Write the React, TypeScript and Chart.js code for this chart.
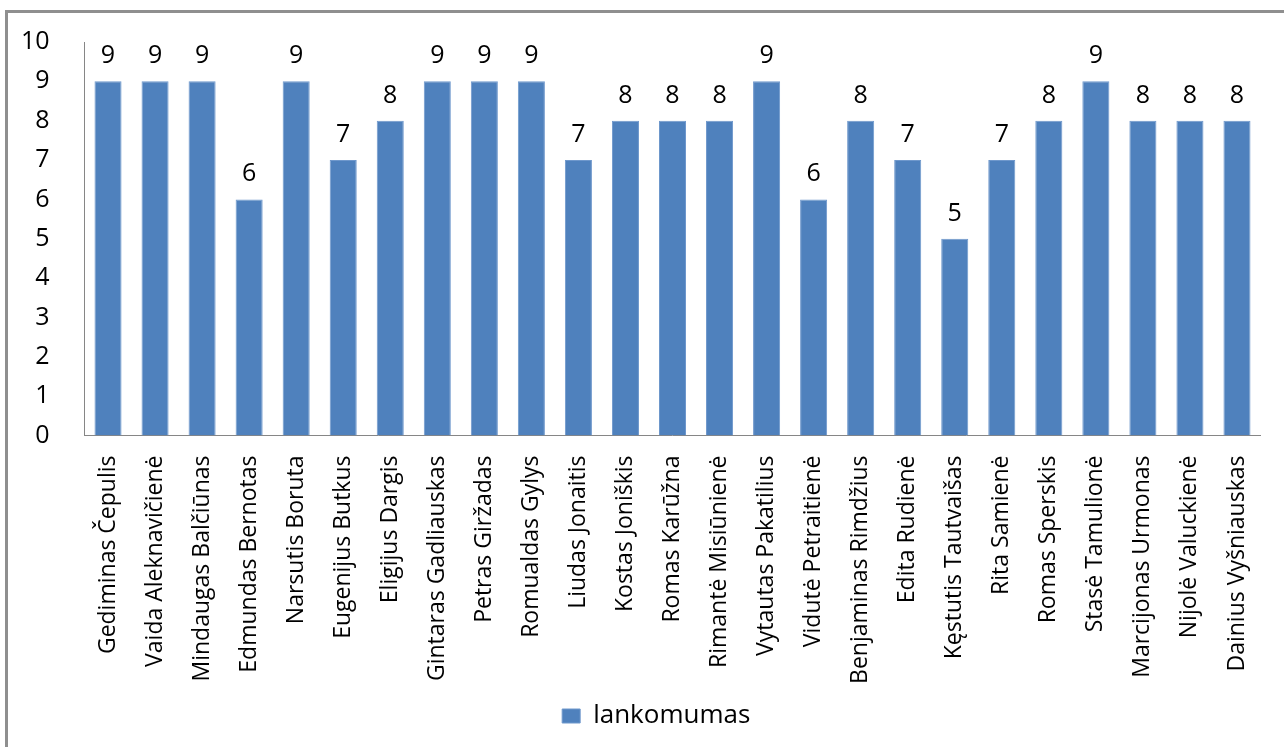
import React, { useEffect, useRef } from "react";
import { Chart, registerables } from "chart.js";

Chart.register(...registerables);

const categories: string[] = [
  "Gediminas Čepulis",
  "Vaida Aleknavičienė",
  "Mindaugas Balčiūnas",
  "Edmundas Bernotas",
  "Narsutis Boruta",
  "Eugenijus Butkus",
  "Eligijus Dargis",
  "Gintaras Gadliauskas",
  "Petras Giržadas",
  "Romualdas Gylys",
  "Liudas Jonaitis",
  "Kostas Joniškis",
  "Romas Karūžna",
  "Rimantė Misiūnienė",
  "Vytautas Pakatilius",
  "Vidutė Petraitienė",
  "Benjaminas Rimdžius",
  "Edita Rudienė",
  "Kęstutis Tautvaišas",
  "Rita Samienė",
  "Romas Sperskis",
  "Stasė Tamulionė",
  "Marcijonas Urmonas",
  "Nijolė Valuckienė",
  "Dainius Vyšniauskas",
];

const lankomumas: number[] = [
  9, 9, 9, 6, 9, 7, 8, 9, 9, 9, 7, 8, 8, 8, 9, 6, 8, 7, 5, 7, 8, 9, 8, 8, 8,
];

const seriesName = "lankomumas";
const yMin = 0;
const yMax = 10;

const FONT = "'Open Sans', 'DejaVu Sans', sans-serif";

const dataLabelPlugin = {
  id: "dataLabels",
  afterLayout(chart: any) {
    const lg = chart.legend;
    if (lg) {
      lg.left += 21;
      lg.right += 21;
    }
  },
  afterDatasetsDraw(chart: any) {
    const ctx = chart.ctx;
    const meta = chart.getDatasetMeta(0);
    const values = chart.data.datasets[0].data as number[];
    ctx.save();
    ctx.font = `25px ${FONT}`;
    ctx.fillStyle = "#000";
    ctx.textAlign = "center";
    ctx.textBaseline = "alphabetic";
    meta.data.forEach((bar: any, i: number) => {
      ctx.fillText(String(values[i]), bar.x, bar.y - 18);
    });
    ctx.restore();
  },
};

export default function App() {
  const canvasRef = useRef<HTMLCanvasElement | null>(null);

  useEffect(() => {
    if (!canvasRef.current) return;
    const chart = new Chart(canvasRef.current, {
      type: "bar",
      data: {
        labels: categories,
        datasets: [
          {
            label: seriesName,
            data: lankomumas,
            backgroundColor: "#4F81BD",
            borderColor: "#6f98cc",
            borderWidth: 1,
            barPercentage: 0.575,
            categoryPercentage: 1,
          },
        ],
      },
      options: {
        animation: false,
        responsive: true,
        maintainAspectRatio: false,
        layout: { padding: { left: 10, right: 23.5, top: 40, bottom: 8 } },
        plugins: {
          tooltip: { enabled: false },
          legend: {
            position: "bottom",
            labels: {
              color: "#000",
              font: { family: FONT, size: 26 },
              boxWidth: 18,
              boxHeight: 14,
              padding: 10,
            },
          },
        },
        scales: {
          x: {
            grid: { display: false },
            border: { display: true, color: "#868686", width: 1 },
            ticks: {
              color: "#000",
              font: { family: FONT, size: 23 },
              minRotation: 90,
              maxRotation: 90,
              autoSkip: false,
              padding: 12,
            },
            afterFit(scale: any) {
              scale.height = 257.5;
            },
          },
          y: {
            min: yMin,
            max: yMax,
            grid: { display: false },
            border: { display: true, color: "#868686", width: 1 },
            ticks: {
              stepSize: 1,
              color: "#000",
              font: { family: FONT, size: 25 },
              padding: 27,
            },
            afterFit(scale: any) {
              scale.width = 74.5;
            },
          },
        },
      },
      plugins: [dataLabelPlugin],
    });
    return () => chart.destroy();
  }, []);

  return (
    <div
      style={{
        position: "absolute",
        left: 0,
        top: 0,
        width: 1284,
        height: 747,
        background: "#fff",
        overflow: "hidden",
      }}
    >
      <canvas ref={canvasRef} style={{ width: 1284, height: 747 }} />
      <div
        style={{
          position: "absolute",
          left: 5,
          top: 10,
          right: -10,
          bottom: -10,
          borderLeft: "3px solid #8f8f8f",
          borderTop: "3px solid #8f8f8f",
          pointerEvents: "none",
        }}
      />
    </div>
  );
}
